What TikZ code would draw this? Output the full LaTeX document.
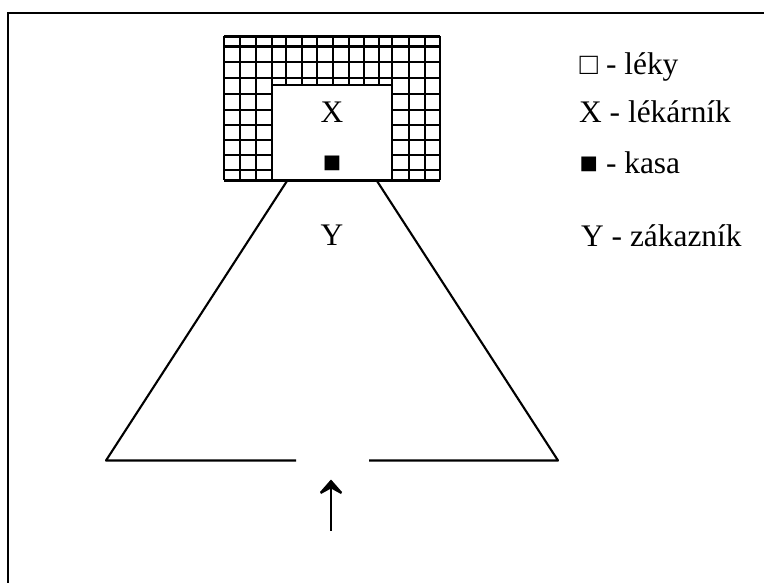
\documentclass[tikz,border=0pt]{standalone}
\usepackage{fontspec}
\setmainfont{Liberation Serif}
\newcommand{\legbox}[1]{\hspace*{.3pt}\scalebox{.97}{#1}\hspace*{.3pt}}
\begin{document}
\begin{tikzpicture}[x=1pt,y=-1pt,
  ink/.style={line width=2.1pt,black},
  txt/.style={inner sep=0pt,font=\fontsize{31.4}{36}\selectfont,anchor=base west},
  ctr/.style={inner sep=0pt,font=\fontsize{31.4}{36}\selectfont,anchor=base}]
\useasboundingbox (0,0) rectangle (764,583);
\fill[white] (0,0) rectangle (764,583);
% frame
\coordinate (fb) at (8,583); \coordinate (fc) at (8,13); \coordinate (fr) at (764,13);
\draw[ink] (fb) -- (fc) -- (fr);
% grid: side columns
\foreach \x in {224,240,256,272,392,408.7,424.7,440} \draw[ink] (\x,36.5) -- (\x,180.5);
\foreach \x in {286,302,317.3,332.7,348.7,364,378.7} \draw[ink] (\x,36.5) -- (\x,85);
\foreach \y in {36.5,46.5,62.3,78.3} \draw[ink] (224,\y) -- (440,\y);
\foreach \y in {93.7,109.7,125,139.7,155,170.3,180.5} {
  \draw[ink] (224,\y) -- (272,\y);
  \draw[ink] (392,\y) -- (440,\y);
}
\draw[ink] (272,85) -- (392,85);
\draw[ink] (272,180.5) -- (392,180.5);
% room
\coordinate (a1) at (287,181); \coordinate (a2) at (106,460.5); \coordinate (a3) at (296,460.5);
\coordinate (b1) at (377,181); \coordinate (b2) at (558,460.5); \coordinate (b3) at (369,460.5);
\draw[ink,line join=round] (a1) -- (a2) -- (a3);
\draw[ink,line join=round] (b1) -- (b2) -- (b3);
% arrow
\coordinate (s) at (331,530.5); \coordinate (t) at (331,484);
\draw[line width=2.4pt,black] (s) -- (t);
\fill[black] (331,479.5) -- (342,492) -- (341,494) -- (331,488.5) -- (321,494) -- (320,492) -- cycle;
% labels
\node[ctr] (x) at (332,122.7) {X};
\node[ctr] (k) at (332,172.5) {\legbox{■}};
\node[ctr] (y) at (332,246) {Y};
\node[txt] (l1) at (579,74.3) {\legbox{□} - léky};
\node[txt] (l2) at (579,123) {X - lékárník};
\node[txt] (l3) at (579,173.5) {\legbox{■} - kasa};
\node[txt] (l4) at (581,246.5) {Y - zákazník};
\end{tikzpicture}
\end{document}
